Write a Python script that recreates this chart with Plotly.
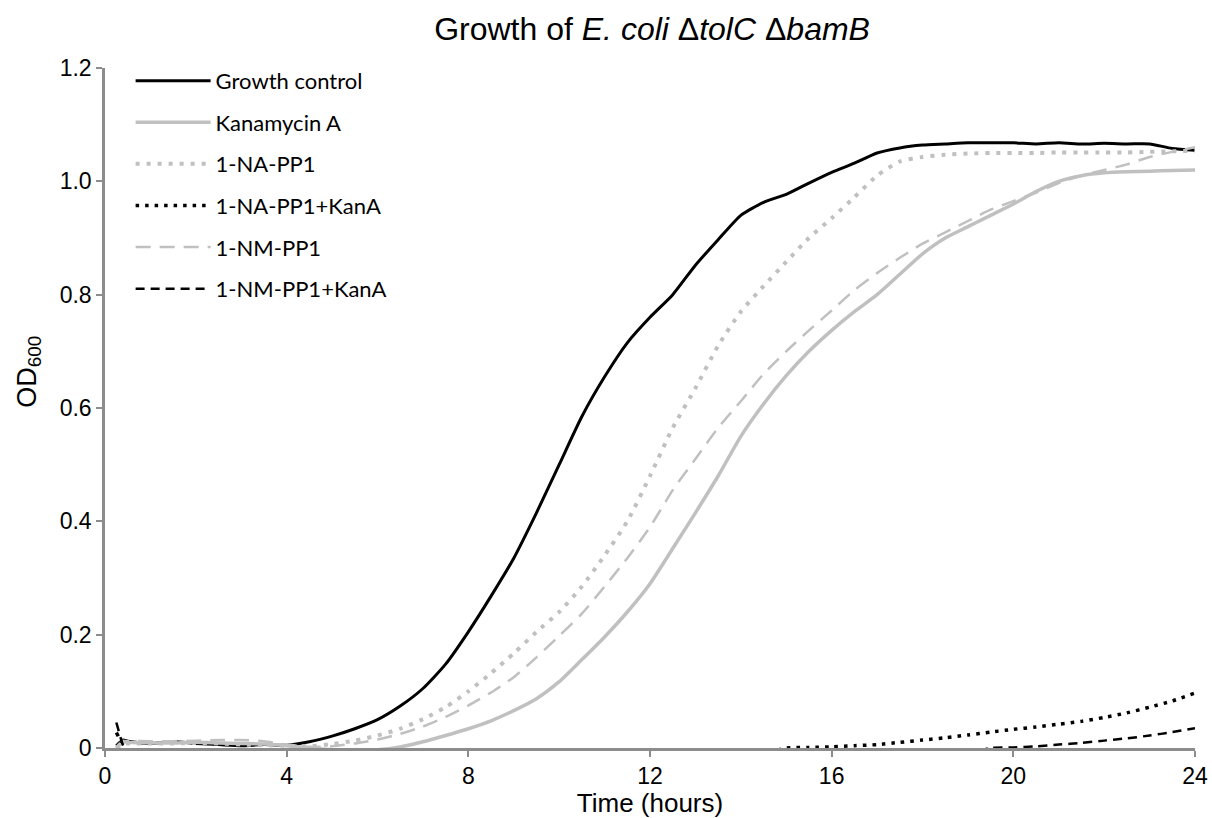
import plotly.graph_objects as go

times = [0.25, 0.4, 0.5, 1.0, 1.5, 2.0, 2.5, 3.0, 3.5, 4.0, 4.5, 5.0, 5.5, 6.0, 6.5, 7.0,
         7.5, 8.0, 8.5, 9.0, 9.5, 10.0, 10.5, 11.0, 11.5, 12.0, 12.5, 13.0, 13.5, 14.0,
         14.5, 15.0, 15.5, 16.0, 16.5, 17.0, 17.5, 18.0, 18.5, 19.0, 19.5, 20.0, 20.5,
         21.0, 21.5, 22.0, 22.5, 23.0, 23.5, 24.0]

growth_control = [0.004, 0.014, 0.012, 0.008, 0.011, 0.008, 0.006, 0.004, 0.006, 0.005,
                  0.011, 0.021, 0.034, 0.050, 0.074, 0.105, 0.148, 0.205, 0.268, 0.335,
                  0.415, 0.500, 0.585, 0.655, 0.715, 0.760, 0.800, 0.852, 0.897, 0.940,
                  0.963, 0.977, 0.997, 1.016, 1.032, 1.050, 1.059, 1.064, 1.066, 1.068,
                  1.068, 1.068, 1.066, 1.068, 1.066, 1.067, 1.066, 1.066, 1.058, 1.055]

kanamycin_a = [0.000, 0.012, 0.010, 0.009, 0.009, 0.010, 0.009, 0.008, 0.007, 0.004,
               0.000, -0.003, -0.004, -0.003, 0.002, 0.011, 0.022, 0.034, 0.048, 0.066,
               0.087, 0.117, 0.156, 0.196, 0.240, 0.290, 0.352, 0.415, 0.480, 0.550,
               0.607, 0.657, 0.700, 0.737, 0.770, 0.800, 0.836, 0.872, 0.900, 0.920,
               0.940, 0.960, 0.982, 1.000, 1.010, 1.015, 1.017, 1.018, 1.019, 1.020]

na_pp1 = [0.000, 0.008, 0.008, 0.008, 0.008, 0.009, 0.008, 0.006, 0.005, 0.004,
          0.003, 0.007, 0.013, 0.022, 0.034, 0.051, 0.072, 0.100, 0.132, 0.167,
          0.205, 0.240, 0.285, 0.340, 0.400, 0.480, 0.565, 0.635, 0.710, 0.770,
          0.815, 0.858, 0.900, 0.935, 0.972, 1.010, 1.035, 1.043, 1.047, 1.049,
          1.050, 1.050, 1.050, 1.051, 1.051, 1.051, 1.051, 1.052, 1.053, 1.054]

na_pp1_kan = [0.027, 0.005, -0.010, -0.010, -0.010, -0.010, -0.010, -0.010, -0.010, -0.010,
              -0.010, -0.010, -0.010, -0.010, -0.010, -0.010, -0.010, -0.010, -0.010, -0.010,
              -0.010, -0.010, -0.010, -0.010, -0.010, -0.010, -0.010, -0.010, -0.010, -0.010,
              -0.010, 0.000, 0.001, 0.002, 0.004, 0.006, 0.010, 0.014, 0.018, 0.023,
              0.028, 0.033, 0.037, 0.042, 0.047, 0.054, 0.062, 0.072, 0.083, 0.097]

nm_pp1 = [0.000, 0.010, 0.012, 0.012, 0.012, 0.013, 0.014, 0.014, 0.012, 0.006,
          0.002, 0.003, 0.008, 0.015, 0.025, 0.038, 0.055, 0.075, 0.098, 0.125,
          0.160, 0.198, 0.237, 0.285, 0.335, 0.390, 0.455, 0.510, 0.565, 0.612,
          0.660, 0.700, 0.737, 0.772, 0.808, 0.838, 0.865, 0.890, 0.910, 0.930,
          0.950, 0.965, 0.980, 0.997, 1.010, 1.020, 1.030, 1.043, 1.052, 1.060]

nm_pp1_kan = [0.045, 0.004, -0.010, -0.010, -0.010, -0.010, -0.010, -0.010, -0.010, -0.010,
              -0.010, -0.010, -0.010, -0.010, -0.010, -0.010, -0.010, -0.010, -0.010, -0.010,
              -0.010, -0.010, -0.010, -0.010, -0.010, -0.010, -0.010, -0.010, -0.010, -0.010,
              -0.010, -0.010, -0.010, -0.010, -0.010, -0.010, -0.010, -0.010, -0.010, -0.010,
              0.000, 0.001, 0.003, 0.006, 0.009, 0.013, 0.017, 0.022, 0.028, 0.035]

series_names = ["Growth control", "Kanamycin A", "1-NA-PP1", "1-NA-PP1+KanA",
                "1-NM-PP1", "1-NM-PP1+KanA"]
series_values = [growth_control, kanamycin_a, na_pp1, na_pp1_kan, nm_pp1, nm_pp1_kan]

x_ticks = [0, 4, 8, 12, 16, 20, 24]
y_ticks = [0, 0.2, 0.4, 0.6, 0.8, 1.0, 1.2]
y_tick_labels = ["0", "0.2", "0.4", "0.6", "0.8", "1.0", "1.2"]

GRAY = "#c0c0c0"
styles = [
    dict(color="black", width=3, dash="solid"),
    dict(color=GRAY, width=3.5, dash="solid"),
    dict(color=GRAY, width=4, dash="4px,7px"),
    dict(color="black", width=3.5, dash="3.5px,6px"),
    dict(color=GRAY, width=2.5, dash="15px,9px"),
    dict(color="black", width=2.5, dash="9px,6px"),
]

fig = go.Figure()
for i, (name, vals) in enumerate(zip(series_names, series_values)):
    fig.add_trace(go.Scatter(
        x=times, y=vals, name=name, mode="lines",
        line=dict(shape="spline", smoothing=0.6, **styles[i]),
        legendgroup=f"g{i}",
    ))

SANS = "Liberation Sans, Arial, sans-serif"
AXIS_COLOR = "#8c8c8c"
fig.update_layout(
    width=1212, height=818,
    paper_bgcolor="white", plot_bgcolor="white",
    margin=dict(l=105, r=17, t=68, b=70),
    title=dict(
        text="Growth of <i>E. coli</i> Δ<i>tolC</i> Δ<i>bamB</i>",
        x=0.538, xanchor="center", y=0.965, yanchor="middle",
        font=dict(family=SANS, size=32, color="black"),
    ),
    font=dict(family=SANS, color="black"),
    showlegend=True,
    legend=dict(
        x=0.0235, y=1.012, xanchor="left", yanchor="top",
        font=dict(family="Lato, Open Sans, sans-serif", size=22, color="black"),
        itemwidth=75, tracegroupgap=10, bgcolor="rgba(0,0,0,0)",
    ),
    xaxis=dict(
        range=[0, 24], tickvals=x_ticks, showgrid=False, zeroline=False,
        automargin=False,
        showline=True, linecolor=AXIS_COLOR, linewidth=2.5,
        ticks="outside", ticklen=6, tickwidth=2, tickcolor=AXIS_COLOR,
        tickfont=dict(size=23, family=SANS),
        title=dict(text="Time (hours)", standoff=4,
                   font=dict(size=26, family=SANS)),
    ),
    yaxis=dict(
        range=[0, 1.2], tickvals=y_ticks, ticktext=y_tick_labels,
        showgrid=False, zeroline=False, automargin=False,
        showline=True, linecolor=AXIS_COLOR, linewidth=2.5,
        ticks="outside", ticklen=6, tickwidth=2, tickcolor=AXIS_COLOR,
        tickfont=dict(size=23, family=SANS),
    ),
    annotations=[dict(
        text="OD<sub>600</sub>", textangle=-90, showarrow=False,
        xref="paper", yref="paper", x=-0.07, y=0.553,
        xanchor="center", yanchor="middle",
        font=dict(size=27, family=SANS, color="black"),
    )],
)

fig.write_html(
    "out.html",
    config={"displayModeBar": False},
    post_script="document.body.style.margin='0';document.body.style.overflow='hidden';",
)
